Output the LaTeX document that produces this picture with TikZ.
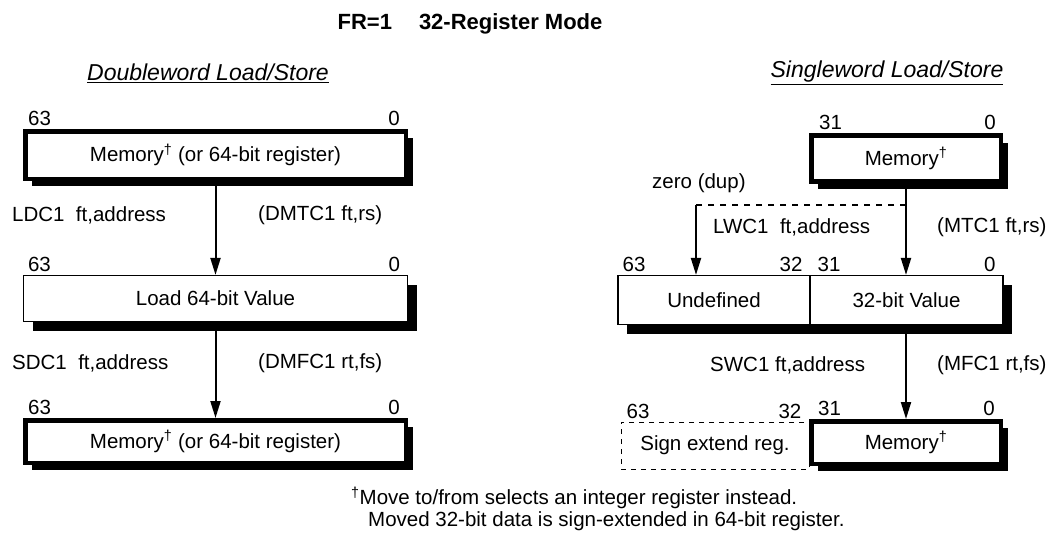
\documentclass[tikz,border=0pt]{standalone}
\usepackage{fontspec}
\setmainfont{Liberation Sans}
\usetikzlibrary{arrows.meta,positioning,shadows,calc}

\begin{document}
\begin{tikzpicture}[
    x=1pt, y=-1pt,
    font=\fontsize{20.5}{24}\selectfont,
    membox/.style={rectangle, draw=black, line width=4.5pt, fill=white, inner sep=0pt,
        drop shadow={shadow xshift=7pt, shadow yshift=-7pt, fill=black, opacity=1}},
    regbox/.style={rectangle, draw=black, line width=1.2pt, fill=white, inner sep=0pt,
        drop shadow={shadow xshift=9pt, shadow yshift=-9pt, fill=black, opacity=1}},
    extbox/.style={rectangle, draw=black, line width=1pt, dash pattern=on 5pt off 5pt, inner sep=0pt},
    arrow/.style={-{Triangle[length=17pt,width=10pt]}, line width=2pt},
    bitnum/.style={inner sep=0pt, yshift=3pt},
    lbl/.style={anchor=west, inner sep=0pt}
]
\useasboundingbox (0,0) rectangle (1052,542);

% Headings
\node[font=\fontsize{22}{26}\selectfont\bfseries] (title) at (470,24) {FR=1\hspace{27pt}32-Register Mode};
\node[font=\fontsize{23}{27}\selectfont\itshape] (dblhead) at (208,73) {\underline{Doubleword Load/Store}};
\node[font=\fontsize{23}{27}\selectfont\itshape] (snghead) at (887,73) {\underline{Singleword Load/Store}};

% Doubleword column
\node[membox, minimum width=380.5pt, minimum height=47.5pt] (memA) at (215.5,155) {Memory\textsuperscript{\textdagger} (or 64-bit register)};
\node[regbox, minimum width=384pt, minimum height=46pt] (loadA) at (215.5,298.5) {Load 64-bit Value};
\node[membox, minimum width=380.5pt, minimum height=42.5pt] (memB) at (215.5,441.5) {Memory\textsuperscript{\textdagger} (or 64-bit register)};

\node[bitnum, anchor=south west, xshift=5pt] at (memA.north west) {63};
\node[bitnum, anchor=south east, xshift=-8pt] at (memA.north east) {0};
\node[bitnum, anchor=south west, xshift=5pt] at (loadA.north west) {63};
\node[bitnum, anchor=south east, xshift=-8pt] at (loadA.north east) {0};
\node[bitnum, anchor=south west, xshift=5pt] at (memB.north west) {63};
\node[bitnum, anchor=south east, xshift=-8pt] at (memB.north east) {0};

\draw[arrow] (memA) -- (loadA);
\draw[arrow] (loadA) -- (memB);

\node[lbl] (ldc) at (12,215) {LDC1\ \ ft,address};
\node[lbl] (dmtc) at (258,215) {(DMTC1 ft,rs)};
\node[lbl] (sdc) at (12,363) {SDC1\ \ ft,address};
\node[lbl] (dmfc) at (258,363) {(DMFC1 rt,fs)};

% Singleword column
\node[membox, minimum width=189.5pt, minimum height=46pt] (memC) at (906,158.5) {Memory\textsuperscript{\textdagger}};
\node[regbox, minimum width=192pt, minimum height=49pt] (undef) at (714,300) {Undefined};
\node[regbox, minimum width=193pt, minimum height=49pt] (val) at (906.5,300) {32-bit Value};
\node[extbox, minimum width=188pt, minimum height=47pt] (signx) at (715,445.5) {Sign extend reg.};
\node[membox, minimum width=189.5pt, minimum height=42.5pt] (memD) at (906,442.5) {Memory\textsuperscript{\textdagger}};

\node[bitnum, anchor=south west, xshift=10pt] at (memC.north west) {31};
\node[bitnum, anchor=south east, xshift=-7pt] at (memC.north east) {0};
\node[bitnum, anchor=south west, xshift=5pt] at (undef.north west) {63};
\node[bitnum, anchor=south east, xshift=-8pt] at (undef.north east) {32};
\node[bitnum, anchor=south west, xshift=8pt] at (val.north west) {31};
\node[bitnum, anchor=south east, xshift=-8pt] at (val.north east) {0};
\node[bitnum, anchor=south west, xshift=6pt] at (signx.north west) {63};
\node[bitnum, anchor=south east, xshift=-8pt] at (signx.north east) {32};
\node[bitnum, anchor=south west, xshift=9pt] at (memD.north west) {31};
\node[bitnum, anchor=south east, xshift=-8pt] at (memD.north east) {0};

\coordinate (dup) at (696,205);
\draw[line width=2pt, dash pattern=on 6pt off 6pt] (memC.south |- dup) -- (dup);
\draw[arrow] (dup) -- (dup |- undef.north);
\draw[arrow] (memC) -- (memC.south |- val.north);
\draw[arrow] (val.south -| memD.north) -- (memD.north);

\node[lbl] (zero) at (652,183) {zero (dup)};
\node[lbl] (lwc) at (713,227) {LWC1\ \ ft,address};
\node[lbl] (mtc) at (937,227) {(MTC1 ft,rs)};
\node[lbl] (swc) at (710,365) {SWC1 ft,address};
\node[lbl] (mfc) at (937,365) {(MFC1 rt,fs)};

% Footnotes
\node[lbl] (fn1) at (351,498) {\textsuperscript{\textdagger}Move to/from selects an integer register instead.};
\node[lbl] (fn2) at (368,521) {Moved 32-bit data is sign-extended in 64-bit register.};

\end{tikzpicture}
\end{document}
